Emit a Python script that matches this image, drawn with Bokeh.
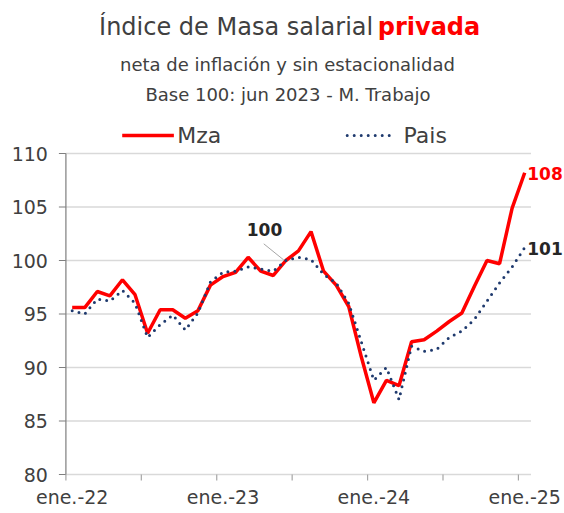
from bokeh.plotting import figure
from bokeh.models import Label, Arrow
from bokeh.core.properties import value
from bokeh.embed import file_html
from bokeh.resources import INLINE

# ---- data (monthly, ene-22 .. ene-25) ----
mza = [95.6, 95.6, 97.1, 96.7, 98.2, 96.8, 93.2, 95.4, 95.4, 94.6, 95.3, 97.7,
       98.5, 98.9, 100.3, 99.0, 98.6, 100.0, 100.9, 102.7, 99.0, 97.7, 95.7, 91.0,
       86.7, 88.8, 88.3, 92.4, 92.6, 93.4, 94.3, 95.1, 97.6, 100.0, 99.7, 104.9, 108.2]
pais = [95.3, 95.0, 96.4, 96.2, 97.2, 96.0, 92.8, 94.0, 94.9, 93.5, 95.1, 98.0,
        98.9, 99.0, 99.4, 99.2, 99.0, 100.0, 100.3, 100.1, 98.7, 97.9, 96.0, 92.4,
        88.8, 90.0, 87.0, 92.0, 91.5, 91.7, 92.8, 93.4, 94.5, 96.2, 97.9, 99.4, 101.2]
tick_labels = ["ene.-22", "ene.-23", "ene.-24", "ene.-25"]
label_months = [0, 12, 24, 36]
y_ticks = [80, 85, 90, 95, 100, 105, 110]

n = len(mza)
x = list(range(n))
FONT = "DejaVu Sans"
TXT = "#404040"

W, H = 564, 513
px_x = 12.57          # px per month
px_y = 10.7           # px per index point
# whole canvas is the frame; plot area spans months -0.5 .. n-0.5 and 80 .. 110
x_lo = -0.5 - 65.4 / px_x
x_hi = x_lo + W / px_x
y_lo = y_ticks[0] - 39 / px_y
y_hi = y_lo + H / px_y
up = 8 / px_y         # baseline correction for text labels

p = figure(width=W, height=H, x_range=(x_lo, x_hi), y_range=(y_lo, y_hi),
           output_backend="svg", toolbar_location=None,
           x_axis_location=None, y_axis_location=None,
           min_border_left=0, min_border_right=0, min_border_top=0, min_border_bottom=0)
p.outline_line_color = None
p.background_fill_color = "white"
p.border_fill_color = "white"
p.xgrid.grid_line_color = None
p.ygrid.grid_line_color = None

a0, a1 = -0.5, n - 0.5
# horizontal gridlines
p.segment(x0=[a0] * len(y_ticks), x1=[a1] * len(y_ticks), y0=y_ticks, y1=y_ticks,
          line_color="#d9d9d9", line_width=1.5)
# left axis line and ticks
p.segment(x0=[a0], x1=[a0], y0=[y_ticks[0]], y1=[y_ticks[-1]],
          line_color="#7f7f7f", line_width=1.2)
p.segment(x0=[a0 - 7 / px_x] * len(y_ticks), x1=[a0] * len(y_ticks), y0=y_ticks, y1=y_ticks,
          line_color="#7f7f7f", line_width=1.2)
p.text(x=[a0 - 18 / px_x] * len(y_ticks), y=y_ticks, text=[str(t) for t in y_ticks],
       text_align="right", text_baseline="middle", text_font=value(FONT),
       text_font_size=value("19px"), text_color=TXT)
# bottom axis: ticks on 6-month boundaries, labels centred on January
bounds = [m - 0.5 for m in range(0, n, 6)]
p.segment(x0=bounds, x1=bounds, y0=[y_ticks[0]] * len(bounds),
          y1=[y_ticks[0] - 6 / px_y] * len(bounds), line_color="#a6a6a6", line_width=1.2)
p.text(x=label_months, y=[y_ticks[0] - 22 / px_y] * len(label_months), text=tick_labels,
       text_align="center", text_baseline="middle", text_font=value(FONT),
       text_font_size=value("19px"), text_color=TXT)

# series
p.line(x, mza, line_color="#ff0000", line_width=3.5)
p.line(x, pais, line_color="#1f3a6e", line_width=3, line_dash="0 7", line_cap="round")

# titles
p.add_layout(Label(x=23.95, y=121.03 + up, text="Índice de Masa salarial", text_align="right",
                   text_baseline="alphabetic", text_font=FONT, text_font_size="24px",
                   text_color=TXT))
p.add_layout(Label(x=24.31, y=121.03 + up, text="privada", text_align="left",
                   text_baseline="alphabetic", text_font=FONT, text_font_size="24px",
                   text_font_style="bold", text_color="#ff0000"))
p.add_layout(Label(x=17.13, y=117.57 + up, text="neta de inflación y sin estacionalidad",
                   text_align="center", text_baseline="alphabetic", text_font=FONT,
                   text_font_size="18px", text_color=TXT))
p.add_layout(Label(x=17.17, y=114.77 + up, text="Base 100: jun 2023 - M. Trabajo",
                   text_align="center", text_baseline="alphabetic", text_font=FONT,
                   text_font_size="18px", text_color=TXT))

# legend
p.add_layout(Arrow(end=None, x_start=3.98, y_start=111.68, x_end=8.09, y_end=111.68,
                   line_color="#ff0000", line_width=3.5))
p.add_layout(Label(x=8.35, y=110.93 + up, text="Mza", text_baseline="alphabetic",
                   text_font=FONT, text_font_size="22px", text_color=TXT))
p.add_layout(Arrow(end=None, x_start=21.88, y_start=111.68, x_end=25.56, y_end=111.68,
                   line_color="#1f3a6e", line_width=3, line_dash="0 7", line_cap="round"))
p.add_layout(Label(x=26.36, y=110.93 + up, text="Pais", text_baseline="alphabetic",
                   text_font=FONT, text_font_size="22px", text_color=TXT))

# annotations
p.add_layout(Arrow(end=None, x_start=15.24, y_start=101.56, x_end=16.83, y_end=100.05,
                   line_color="#a6a6a6", line_width=1))
p.add_layout(Label(x=15.3, y=102.18 + up, text="100", text_align="center",
                   text_baseline="alphabetic", text_font=FONT, text_font_size="17px",
                   text_font_style="bold", text_color="#262626"))
p.add_layout(Label(x=36.2, y=108.1, text="108", text_baseline="middle",
                   text_font=FONT, text_font_size="17px",
                   text_font_style="bold", text_color="#ff0000"))
p.add_layout(Label(x=36.2, y=101.1, text="101", text_baseline="middle",
                   text_font=FONT, text_font_size="17px",
                   text_font_style="bold", text_color="#262626"))

open("out.html", "w").write(file_html(p, INLINE))
